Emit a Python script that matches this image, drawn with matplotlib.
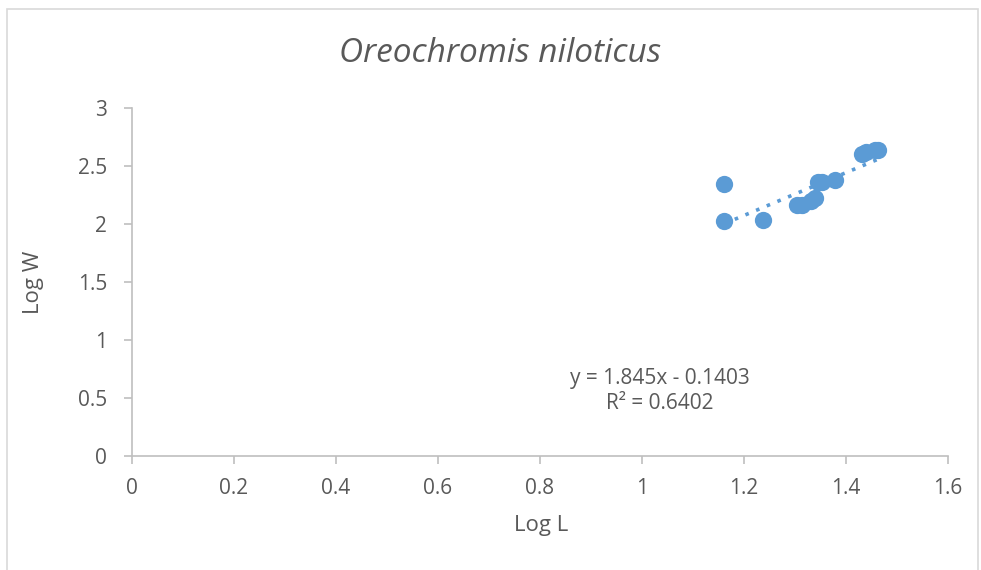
import matplotlib
matplotlib.use("Agg")
import matplotlib.pyplot as plt
from matplotlib.patches import Rectangle

# Log L / Log W values
log_l = [1.161, 1.161, 1.237, 1.304, 1.314, 1.331, 1.339, 1.345, 1.353,
         1.378, 1.431, 1.439, 1.457, 1.463]
log_w = [2.345, 2.026, 2.034, 2.164, 2.164, 2.198, 2.224, 2.365, 2.365,
         2.379, 2.603, 2.621, 2.638, 2.638]

# linear trendline as printed on the chart
slope, intercept = 1.845, -0.1403
r2 = 0.6402

x_ticks = [0, 0.2, 0.4, 0.6, 0.8, 1, 1.2, 1.4, 1.6]
y_ticks = [0, 0.5, 1, 1.5, 2, 2.5, 3]

BLUE = "#5b9bd5"
TXT = "#595959"
AXC = "#bfbfbf"

plt.rcParams["font.family"] = ["Open Sans", "DejaVu Sans"]

W, H = 981, 570
fig = plt.figure(figsize=(W / 100, H / 100), dpi=100)
ax = fig.add_axes([132 / W, 1 - 456 / H, (948 - 132) / W, (456 - 108) / H])

# chart-area frame
fig.patches.append(Rectangle((7 / W, -0.01), (978 - 7) / W, 1 - 9 / H + 0.01,
                             transform=fig.transFigure, fill=False,
                             edgecolor="#d9d9d9", lw=1.2))

ax.scatter(log_l, log_w, s=155, color=BLUE, zorder=3, linewidths=0)

tx = [min(log_l), max(log_l)]
ty = [slope * v + intercept for v in tx]
ax.plot(tx, ty, linestyle=(0, (1, 2.2)), color=BLUE, lw=2.6, zorder=2)

ax.text(1.035, 0.56, f"y = {slope}x - {abs(intercept)}\nR² = {r2}",
        ha="center", va="center", fontsize=15, color=TXT, linespacing=1.3)

ax.set_xlim(0, 1.6)
ax.set_ylim(0, 3)
ax.set_xticks(x_ticks)
ax.set_xticklabels([f"{v:g}" for v in x_ticks])
ax.set_yticks(y_ticks)
ax.set_yticklabels([f"{v:g}" for v in y_ticks])

for s in ("top", "right"):
    ax.spines[s].set_visible(False)
for s in ("left", "bottom"):
    ax.spines[s].set_color(AXC)
    ax.spines[s].set_linewidth(1.2)
ax.tick_params(axis="both", colors=AXC, labelcolor=TXT, labelsize=15,
               length=6, width=1.2, direction="out")
ax.tick_params(axis="x", pad=10)
ax.tick_params(axis="y", pad=12)

fig.text(541 / W, 1 - 525 / H, "Log L", ha="center", va="center",
         fontsize=16, color=TXT)
fig.text(33 / W, 1 - 282 / H, "Log W", ha="center", va="center",
         fontsize=16, color=TXT, rotation=90)
fig.text(500 / W, 1 - 54 / H, "Oreochromis niloticus", ha="center",
         va="center", fontsize=24, style="italic", color=TXT)

fig.savefig("out.png", dpi=100)
